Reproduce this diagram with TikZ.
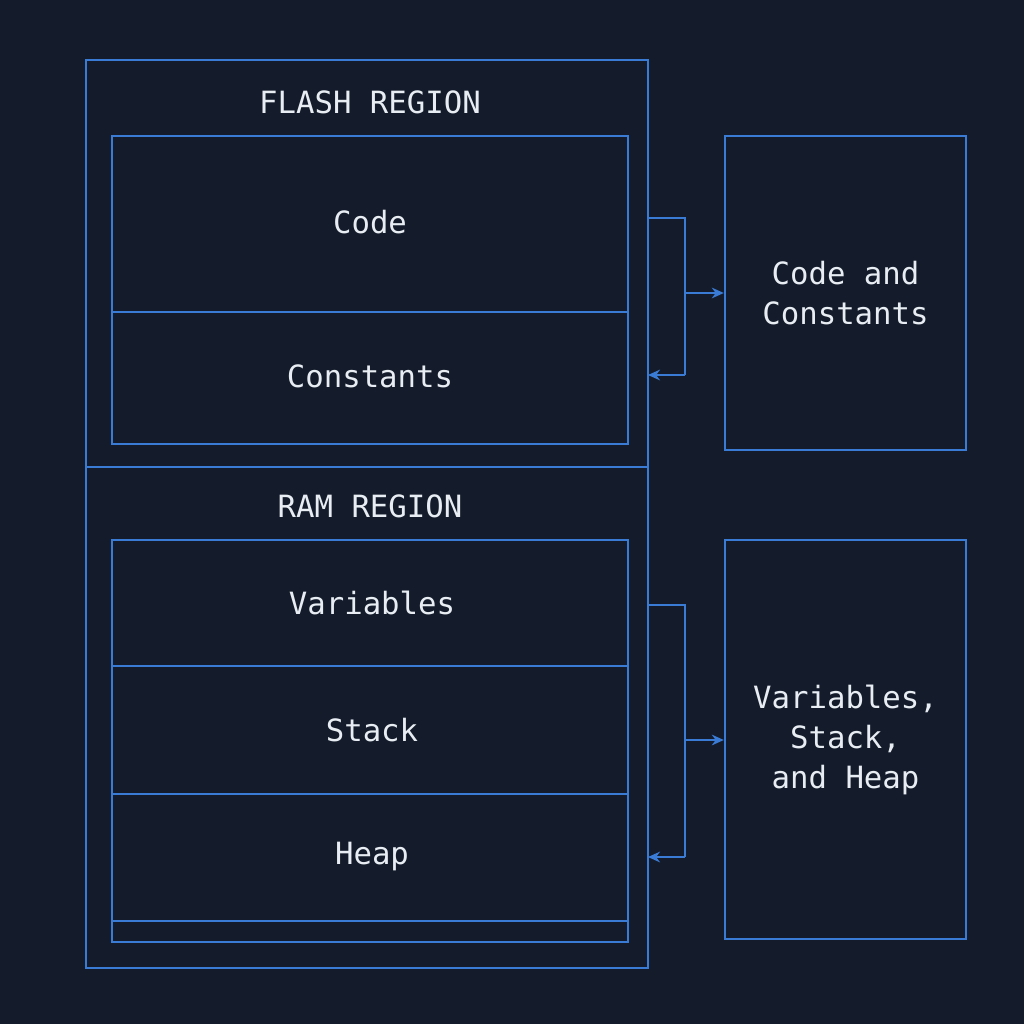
\documentclass[tikz,border=0pt]{standalone}
\usepackage{fontspec}
\setmonofont{DejaVu Sans Mono}
\usetikzlibrary{arrows.meta}
\definecolor{bg}{HTML}{141C2B}
\definecolor{bl}{HTML}{3A7BD5}
\definecolor{tx}{HTML}{E8EDF3}
\begin{document}
\begin{tikzpicture}[x=0.75pt,y=-0.75pt,
  box/.style={draw=bl,line width=1.8pt},
  lbl/.style={text=tx,font=\ttfamily\fontsize{23}{30}\selectfont,align=center},
  conn/.style={draw=bl,line width=1.8pt},
  arr/.style={conn,-{Stealth[length=9pt,width=8pt]}}]
\fill[bg] (0,0) rectangle (1024,1024);
\useasboundingbox (0,0) rectangle (1024,1024);
% outer
\draw[box] (86,60) rectangle (648,968);
\draw[box] (86,467) -- (648,467);
\node[lbl] (flash) at (370,102) {FLASH REGION};
\draw[box] (112,136) rectangle (628,444);
\draw[box] (112,312) -- (628,312);
\node[lbl] (code) at (370,222) {Code};
\node[lbl] (const) at (370,376) {Constants};
\node[lbl] (ram) at (370,506) {RAM REGION};
\draw[box] (112,540) rectangle (628,942);
\draw[box] (112,666) -- (628,666);
\draw[box] (112,794) -- (628,794);
\draw[box] (112,921) -- (628,921);
\node[lbl] (var) at (372,603) {Variables};
\node[lbl] (stack) at (372,730) {Stack};
\node[lbl] (heap) at (372,857) {Heap};
% right boxes
\node[box,minimum width=241*0.75pt,minimum height=314*0.75pt,lbl,inner sep=0pt] (r1) at (845.5,293) {Code and\\Constants};
\node[box,minimum width=241*0.75pt,minimum height=399*0.75pt,lbl,inner sep=0pt] (r2) at (845.5,739.5) {Variables,\\Stack,\\and Heap};
% connectors
\coordinate (a1) at (648,218); \coordinate (a2) at (685,218);
\coordinate (a3) at (685,375); \coordinate (a4) at (648,375);
\coordinate (a5) at (685,293);
\draw[conn] (a1) -- (a2) -- (a3);
\draw[arr] (a3) -- (a4);
\draw[arr] (a5) -- (r1.west |- a5);
\coordinate (b1) at (648,605); \coordinate (b2) at (685,605);
\coordinate (b3) at (685,857); \coordinate (b4) at (648,857);
\coordinate (b5) at (685,740);
\draw[conn] (b1) -- (b2) -- (b3);
\draw[arr] (b3) -- (b4);
\draw[arr] (b5) -- (r2.west |- b5);
\end{tikzpicture}
\end{document}
